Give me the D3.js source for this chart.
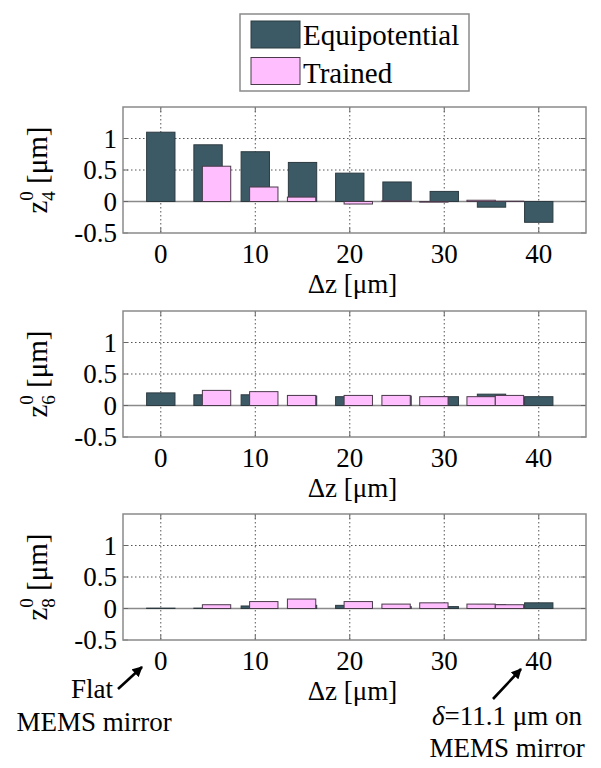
<!DOCTYPE html>
<html><head><meta charset="utf-8">
<script src="https://cdn.jsdelivr.net/npm/d3@7"></script>
<style>
html body svg#c text, html body svg#c tspan, html body svg#c .lbl {
  font-family: "Liberation Serif", Tinos, "Times New Roman", serif !important;
}
</style>
</head>
<body style="margin:0"><svg id="c" width="601" height="768"></svg>
<script>
// ---- data ----
const seriesNames = ["Equipotential", "Trained"];
const equiX = [0, 5, 10, 15, 20, 25, 30, 35, 40];
const trainedX = [5.9, 10.9, 14.9, 20.9, 24.9, 28.9, 33.9, 36.9];
const z4Equi = [1.1, 0.9, 0.79, 0.62, 0.45, 0.31, 0.16, -0.09, -0.33];
const z4Trained = [0.56, 0.23, 0.07, -0.04, 0.01, -0.01, 0.02, 0.005];
const z6Equi = [0.2, 0.17, 0.17, 0.15, 0.14, 0.15, 0.14, 0.18, 0.14];
const z6Trained = [0.24, 0.22, 0.16, 0.16, 0.16, 0.14, 0.14, 0.16];
const z8Equi = [0.005, 0.005, 0.04, 0.05, 0.05, 0.03, 0.03, 0.06, 0.09];
const z8Trained = [0.06, 0.11, 0.15, 0.11, 0.07, 0.09, 0.07, 0.06];
const xTicks = [0, 10, 20, 30, 40];
const yTicks = [-0.5, 0, 0.5, 1];
const yTickLabels = ["-0.5", "0", "0.5", "1"];
const panelSubs = ["4", "6", "8"];
const colors = {equi: "#3c5a66", trained: "#ffbfff"};

const FONT = "Liberation Serif";
const svg = d3.select("#c");
const left = 123, right = 586, ph = 126;
const tops = [107, 311, 514];
const x = d3.scaleLinear().domain([-4, 45]).range([left, right]);
const barW = x(3) - x(0);

const panels = [
  {e: z4Equi, t: z4Trained},
  {e: z6Equi, t: z6Trained},
  {e: z8Equi, t: z8Trained}
];

panels.forEach((p, i) => {
  const top = tops[i], bot = top + ph;
  const y = d3.scaleLinear().domain([-0.5, 1.5]).range([bot, top]);
  const g = svg.append("g");
  g.selectAll(".gx").data(xTicks).join("line")
    .attr("x1", d => x(d)).attr("x2", d => x(d)).attr("y1", top).attr("y2", bot)
    .attr("stroke", "#555").attr("stroke-width", 1).attr("stroke-dasharray", "1.5,2.5");
  g.selectAll(".gy").data(yTicks.filter(v => v !== 0 && v !== -0.5)).join("line")
    .attr("x1", left).attr("x2", right).attr("y1", d => y(d)).attr("y2", d => y(d))
    .attr("stroke", "#555").attr("stroke-width", 1).attr("stroke-dasharray", "1.5,2.5");
  g.append("line").attr("x1", left).attr("x2", right).attr("y1", y(0)).attr("y2", y(0))
    .attr("stroke", "#8a8a8a").attr("stroke-width", 1.5);
  g.selectAll(".be").data(equiX.map((d, k) => [d, p.e[k]])).join("rect")
    .attr("x", d => x(d[0]) - barW / 2).attr("width", barW)
    .attr("y", d => y(Math.max(0, d[1]))).attr("height", d => Math.abs(y(d[1]) - y(0)))
    .attr("fill", colors.equi).attr("stroke", "#2c3a40").attr("stroke-width", 1);
  g.selectAll(".bt").data(trainedX.map((d, k) => [d, p.t[k]])).join("rect")
    .attr("x", d => x(d[0]) - barW / 2).attr("width", barW)
    .attr("y", d => y(Math.max(0, d[1]))).attr("height", d => Math.abs(y(d[1]) - y(0)))
    .attr("fill", colors.trained).attr("stroke", "#4a3a4a").attr("stroke-width", 1);
  const tk = 5;
  g.selectAll(".tb").data(xTicks).join("line")
    .attr("x1", d => x(d)).attr("x2", d => x(d)).attr("y1", bot).attr("y2", bot - tk).attr("stroke", "#666");
  g.selectAll(".tt").data(xTicks).join("line")
    .attr("x1", d => x(d)).attr("x2", d => x(d)).attr("y1", top).attr("y2", top + tk).attr("stroke", "#666");
  g.selectAll(".tl").data(yTicks).join("line")
    .attr("x1", left).attr("x2", left + tk).attr("y1", d => y(d)).attr("y2", d => y(d)).attr("stroke", "#666");
  g.selectAll(".tr").data(yTicks).join("line")
    .attr("x1", right).attr("x2", right - tk).attr("y1", d => y(d)).attr("y2", d => y(d)).attr("stroke", "#666");
  g.append("rect").attr("x", left).attr("y", top).attr("width", right - left).attr("height", ph)
    .attr("fill", "none").attr("stroke", "#8a8a8a").attr("stroke-width", 1.5);
  g.selectAll(".xl").data(xTicks).join("text").attr("class", "lbl")
    .attr("font-family", FONT)
    .attr("x", d => x(d)).attr("y", bot + 30).attr("text-anchor", "middle")
    .attr("font-size", 27).text(d => d);
  g.selectAll(".yl").data(yTicks).join("text").attr("class", "lbl")
    .attr("font-family", FONT)
    .attr("x", left - 6).attr("y", d => y(d) + 9).attr("text-anchor", "end")
    .attr("font-size", 27).text((d, k) => yTickLabels[k]);
  g.append("text").attr("class", "lbl").attr("font-family", FONT).attr("x", (left + right) / 2 - 2).attr("y", bot + 60)
    .attr("text-anchor", "middle").attr("font-size", 27).text("Δz [μm]");
  const yt = g.append("text").attr("class", "lbl").attr("font-family", FONT)
    .attr("transform", `translate(47,${(top + bot) / 2}) rotate(-90)`)
    .attr("text-anchor", "middle").attr("font-size", 29);
  yt.append("tspan").text("z");
  yt.append("tspan").attr("font-size", 19).attr("dy", -14).text("0");
  yt.append("tspan").attr("font-size", 19).attr("dx", -9.5).attr("dy", 22).text(panelSubs[i]);
  yt.append("tspan").attr("dy", -8).text(" [μm]");
});

const lg = svg.append("g");
lg.append("rect").attr("x", 240).attr("y", 14).attr("width", 229).attr("height", 77)
  .attr("fill", "#fff").attr("stroke", "#8a8a8a").attr("stroke-width", 1.5);
[colors.equi, colors.trained].forEach((c, k) => {
  lg.append("rect").attr("x", 251).attr("y", 21 + k * 36.5).attr("width", 49).attr("height", 27)
    .attr("fill", c).attr("stroke", k ? "#4a3a4a" : "#2c3a40");
  lg.append("text").attr("class", "lbl").attr("font-family", FONT).attr("x", 303).attr("y", 45 + k * 38)
    .attr("font-size", 29).text(seriesNames[k]);
});

const defs = svg.append("defs");
defs.append("marker").attr("id", "ah").attr("viewBox", "0 0 10 10").attr("refX", 9).attr("refY", 5)
  .attr("markerWidth", 4).attr("markerHeight", 4).attr("orient", "auto")
  .append("path").attr("d", "M0,0 L10,5 L0,10 z").attr("fill", "#000");
svg.append("line").attr("x1", 118).attr("y1", 689).attr("x2", 142).attr("y2", 667)
  .attr("stroke", "#000").attr("stroke-width", 2.6).attr("marker-end", "url(#ah)");
svg.append("line").attr("x1", 493).attr("y1", 699).attr("x2", 521).attr("y2", 669)
  .attr("stroke", "#000").attr("stroke-width", 2.6).attr("marker-end", "url(#ah)");

svg.append("text").attr("class", "lbl").attr("font-family", FONT).attr("x", 92).attr("y", 698).attr("text-anchor", "middle").attr("font-size", 27).text("Flat");
svg.append("text").attr("class", "lbl").attr("font-family", FONT).attr("x", 94).attr("y", 731).attr("text-anchor", "middle").attr("font-size", 27).text("MEMS mirror");
const t2 = svg.append("text").attr("class", "lbl").attr("font-family", FONT).attr("x", 507).attr("y", 725).attr("text-anchor", "middle").attr("font-size", 27);
t2.append("tspan").attr("font-style", "italic").text("δ");
t2.append("tspan").text("=11.1 μm on");
svg.append("text").attr("class", "lbl").attr("font-family", FONT).attr("x", 507).attr("y", 757).attr("text-anchor", "middle").attr("font-size", 27).text("MEMS mirror");
</script></body></html>
